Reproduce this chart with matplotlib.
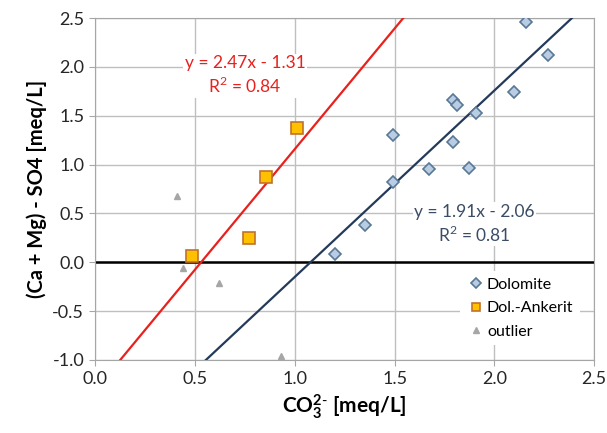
import matplotlib.pyplot as plt
import numpy as np

plt.rcParams['font.family'] = ['Lato', 'DejaVu Sans']
plt.rcParams['mathtext.fontset'] = 'custom'
plt.rcParams['mathtext.rm'] = 'Lato'
plt.rcParams['mathtext.bf'] = 'Lato:bold'

# Dolomite
dol_x = [1.20, 1.35, 1.49, 1.49, 1.67, 1.79, 1.79, 1.81, 1.87, 1.91, 2.10, 2.16, 2.27]
dol_y = [0.08, 0.38, 1.30, 0.82, 0.96, 1.23, 1.66, 1.61, 0.97, 1.53, 1.74, 2.46, 2.12]

# Dol.-Ankerit
ank_x = [0.485, 0.77, 0.855, 1.01]
ank_y = [0.06, 0.25, 0.87, 1.38]

# outlier
out_x = [0.41, 0.44, 0.62, 0.93]
out_y = [0.68, -0.06, -0.21, -0.96]

# Trendlinien (Steigung, Achsenabschnitt)
red_fit = (2.47, -1.31)
blue_fit = (1.91, -2.06)

fig = plt.figure(figsize=(6.07, 4.33), dpi=100)
ax = fig.add_axes([0.157, 0.169, 0.822, 0.789])

ax.set_xlim(0, 2.5)
ax.set_ylim(-1.0, 2.5)
ax.set_xticks(np.arange(0, 2.51, 0.5))
ax.set_yticks(np.arange(-1.0, 2.51, 0.5))
ax.xaxis.set_major_formatter(plt.FormatStrFormatter('%.1f'))
ax.yaxis.set_major_formatter(plt.FormatStrFormatter('%.1f'))
ax.grid(True, color='#BFBFBF', linewidth=1)
ax.set_axisbelow(True)
for s in ax.spines.values():
    s.set_color('#A6A6A6')
ax.tick_params(length=4, color='#A6A6A6', labelsize=13, pad=4,
               labelcolor='#262626')

ax.axhline(0, color='black', linewidth=1.8, zorder=2)

xx = np.array([0, 2.5])
ax.plot(xx, red_fit[0] * xx + red_fit[1], color='#E8211C', linewidth=1.6, zorder=3)
ax.plot(xx, blue_fit[0] * xx + blue_fit[1], color='#243A5A', linewidth=1.6, zorder=3)

ax.plot(dol_x, dol_y, 'D', markersize=6, markerfacecolor='#B8CCE4',
        markeredgecolor='#5A7896', markeredgewidth=1.2, linestyle='none',
        label='Dolomite', zorder=4)
ax.plot(ank_x, ank_y, 's', markersize=8, markerfacecolor='#FFC000',
        markeredgecolor='#C0722A', markeredgewidth=1.2, linestyle='none',
        label='Dol.-Ankerit', zorder=4)
ax.plot(out_x, out_y, '^', markersize=5, markerfacecolor='#A6A6A6',
        markeredgecolor='#A6A6A6', linestyle='none', label='outlier', zorder=4)

ax.text(0.75, 1.91, 'y = 2.47x - 1.31\nR$^2$ = 0.84', color='#E8211C',
        fontsize=12.5, ha='center', va='center', linespacing=1.3,
        bbox=dict(facecolor='white', edgecolor='none', pad=1), zorder=5)
ax.text(1.9, 0.39, 'y = 1.91x - 2.06\nR$^2$ = 0.81', color='#3A4C66',
        fontsize=12.5, ha='center', va='center', linespacing=1.3,
        bbox=dict(facecolor='white', edgecolor='none', pad=1), zorder=5)

leg = ax.legend(loc='lower right', fontsize=11.5, frameon=True, framealpha=1,
                edgecolor='none', handletextpad=0.1, handlelength=1.2,
                borderaxespad=0.9, labelspacing=0.6, markerscale=0.8)

ax.set_xlabel(r'$\mathbf{CO_3^{2\text{-}}}$ [meq/L]', fontsize=15, fontweight='bold')
ax.set_ylabel('(Ca + Mg) - SO4 [meq/L]', fontsize=14.5, fontweight='bold')

plt.savefig('out.png', dpi=100)
